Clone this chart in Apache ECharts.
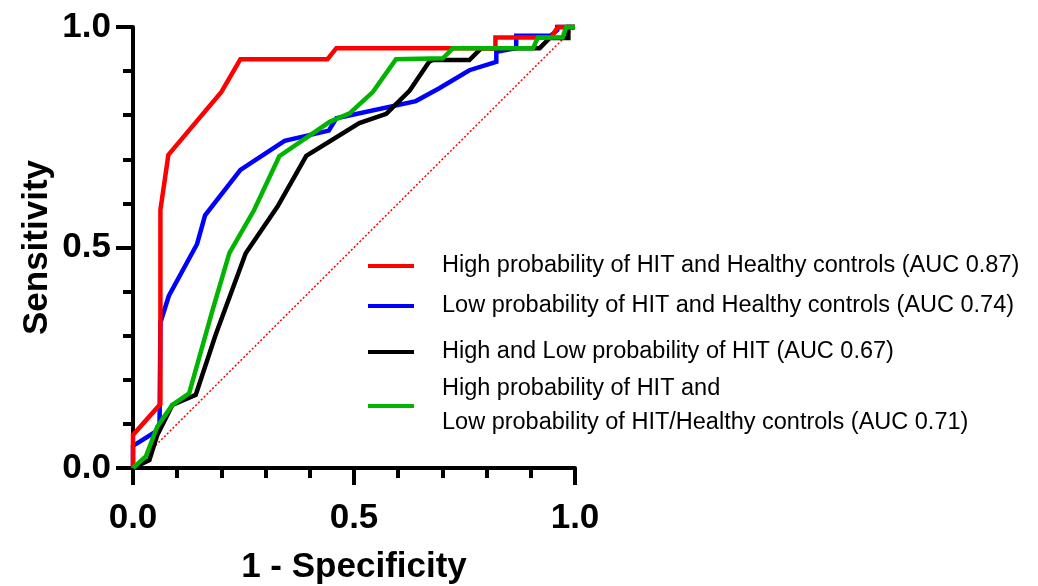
<!DOCTYPE html>
<html>
<head>
<meta charset="utf-8">
<script src="https://cdn.jsdelivr.net/npm/echarts@6/dist/echarts.min.js"></script>
<style>
  html, body { margin: 0; padding: 0; background: #fff; }
  #chart { width: 1038px; height: 586px; }
</style>
</head>
<body>
<div id="chart"></div>
<script>
// ROC curves, points are [1 - specificity, sensitivity]
const redName = 'High probability of HIT and Healthy controls (AUC 0.87)';
const blueName = 'Low probability of HIT and Healthy controls (AUC 0.74)';
const blackName = 'High and Low probability of HIT (AUC 0.67)';
const greenName = 'High probability of HIT and\nLow probability of HIT/Healthy controls (AUC 0.71)';

const redPts = [[0,0],[0,0.075],[0.062,0.145],[0.062,0.585],[0.08,0.71],[0.2,0.853],[0.243,0.927],[0.44,0.927],[0.46,0.952],[0.82,0.952],[0.82,0.976],[0.946,0.976],[0.961,1],[1,1]];
const bluePts = [[0,0],[0,0.05],[0.06,0.088],[0.062,0.33],[0.081,0.39],[0.145,0.508],[0.163,0.573],[0.243,0.676],[0.343,0.742],[0.443,0.765],[0.46,0.793],[0.64,0.832],[0.693,0.861],[0.761,0.902],[0.822,0.921],[0.822,0.944],[0.867,0.952],[0.867,0.98],[0.945,0.98],[0.96,0.993],[0.96,1],[1,1]];
const blackPts = [[0,0],[0.037,0.018],[0.055,0.075],[0.089,0.143],[0.142,0.166],[0.187,0.302],[0.255,0.487],[0.327,0.593],[0.392,0.708],[0.512,0.782],[0.573,0.803],[0.626,0.856],[0.67,0.921],[0.678,0.925],[0.761,0.925],[0.788,0.952],[0.92,0.952],[0.943,0.975],[0.985,0.975],[0.985,1],[1,1]];
const greenPts = [[0,0],[0.029,0.026],[0.055,0.094],[0.089,0.143],[0.127,0.169],[0.18,0.358],[0.218,0.487],[0.274,0.585],[0.331,0.707],[0.445,0.785],[0.49,0.804],[0.543,0.853],[0.595,0.927],[0.701,0.929],[0.724,0.952],[0.905,0.952],[0.916,0.976],[0.972,0.976],[0.98,1],[1,1]];
const chancePts = [[0,0],[1,1]];

const tickLabels = ['0.0', '0.5', '1.0'];

const font = 'Liberation Sans, Arial, sans-serif';

const axisCommon = {
  type: 'value',
  min: 0,
  max: 1,
  interval: 0.5,
  nameLocation: 'middle',
  nameTextStyle: { fontFamily: font, fontSize: 35, fontWeight: 'bold', color: '#000' },
  axisLine: { lineStyle: { color: '#000', width: 4 } },
  axisTick: { length: 17, lineStyle: { color: '#000', width: 4 } },
  minorTick: { show: true, splitNumber: 5, length: 10, lineStyle: { color: '#000', width: 4 } },
  splitLine: { show: false },
  minorSplitLine: { show: false },
  axisLabel: {
    fontFamily: font, fontSize: 35, fontWeight: 'bold', color: '#000',
    formatter: (v) => tickLabels[Math.round(v * 2)]
  }
};

const legendCommon = {
  orient: 'vertical',
  left: 368,
  padding: 0,
  icon: 'rect',
  itemWidth: 46,
  itemHeight: 4,
  selectedMode: false,
  textStyle: { fontFamily: font, fontSize: 23.5, color: '#000', padding: [0, 0, 0, 23], lineHeight: 26 }
};

function mkLegend(name, top, lh) {
  const l = JSON.parse(JSON.stringify(legendCommon));
  l.top = top;
  l.data = [name];
  if (lh) l.textStyle.lineHeight = lh;
  return l;
}

function mkLine(name, pts, color, z) {
  return {
    name: name,
    type: 'line',
    data: pts,
    symbol: 'none',
    clip: false,
    z: z,
    lineStyle: { color: color, width: 4.5, join: 'miter' },
    itemStyle: { color: color }
  };
}

const chart = echarts.init(document.getElementById('chart'));
chart.setOption({
  animation: false,
  backgroundColor: '#fff',
  grid: { left: 133, right: 463, top: 27, bottom: 118, containLabel: false, outerBoundsMode: 'none' },
  legend: [
    mkLegend(redName, 253),
    mkLegend(blueName, 293),
    mkLegend(blackName, 339),
    mkLegend(greenName, 372, 34)
  ],
  xAxis: Object.assign({}, axisCommon, {
    name: '1 - Specificity',
    nameGap: 82,
    axisLabel: Object.assign({}, axisCommon.axisLabel, { margin: 33 })
  }),
  yAxis: Object.assign({}, axisCommon, {
    name: 'Sensitivity',
    nameGap: 78,
    nameRotate: 90,
    axisLabel: Object.assign({}, axisCommon.axisLabel, { margin: 22 })
  }),
  series: [
    {
      name: 'chance',
      type: 'line',
      data: chancePts,
      symbol: 'none',
      z: 1,
      lineStyle: { color: '#ff0000', width: 1.5, type: [2, 2] }
    },
    mkLine(blueName, bluePts, '#0000ff', 2),
    mkLine(blackName, blackPts, '#000000', 3),
    mkLine(redName, redPts, '#ff0000', 4),
    mkLine(greenName, greenPts, '#00b400', 5)
  ]
});
</script>
</body>
</html>
